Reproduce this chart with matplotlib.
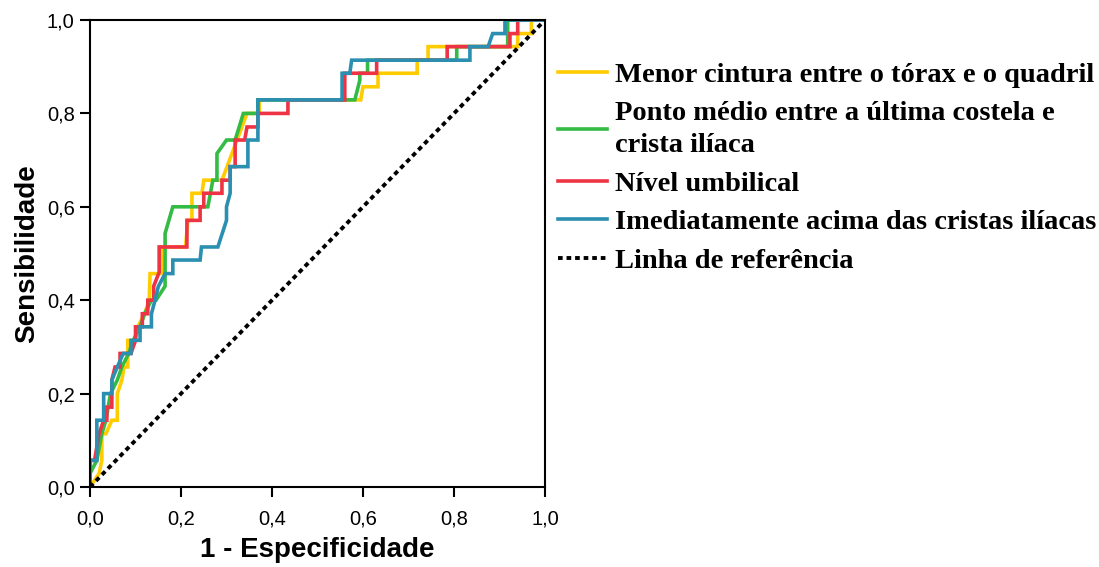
import matplotlib
matplotlib.use("Agg")
import matplotlib.pyplot as plt
from matplotlib.lines import Line2D

# ROC curves (1 - specificity, sensitivity)
fpr_menor = [0, 0.02, 0.026, 0.026, 0.035, 0.048, 0.06, 0.06, 0.07, 0.075, 0.083, 0.083, 0.1, 0.105,
             0.12, 0.13, 0.132, 0.158, 0.158, 0.21, 0.215, 0.224, 0.224, 0.246, 0.25, 0.29, 0.312,
             0.345, 0.372, 0.372, 0.595, 0.6, 0.633, 0.633, 0.719, 0.719, 0.743, 0.743, 0.94, 0.94,
             0.97, 0.97, 1.0]
tpr_menor = [0, 0.029, 0.057, 0.114, 0.114, 0.143, 0.143, 0.2, 0.229, 0.257, 0.257, 0.314, 0.314, 0.343,
             0.371, 0.4, 0.457, 0.457, 0.514, 0.514, 0.571, 0.571, 0.629, 0.629, 0.657, 0.657, 0.714,
             0.8, 0.8, 0.829, 0.829, 0.857, 0.857, 0.886, 0.886, 0.914, 0.914, 0.943, 0.943, 0.971,
             0.971, 1.0, 1.0]

fpr_medio = [0, 0, 0.015, 0.026, 0.035, 0.045, 0.06, 0.07, 0.085, 0.095, 0.11, 0.12, 0.135, 0.145,
             0.165, 0.165, 0.182, 0.259, 0.27, 0.279, 0.279, 0.30, 0.319, 0.337, 0.369, 0.369, 0.582,
             0.593, 0.593, 0.61, 0.61, 0.806, 0.806, 0.918, 0.918, 1.0]
tpr_medio = [0, 0.029, 0.057, 0.114, 0.143, 0.2, 0.229, 0.257, 0.286, 0.314, 0.343, 0.371, 0.4, 0.4,
             0.43, 0.543, 0.6, 0.6, 0.657, 0.657, 0.714, 0.743, 0.743, 0.8, 0.8, 0.829, 0.829,
             0.871, 0.886, 0.886, 0.914, 0.914, 0.943, 0.943, 1.0, 1.0]

fpr_umbilical = [0, 0, 0.01, 0.02, 0.03, 0.037, 0.037, 0.048, 0.048, 0.055, 0.066, 0.066, 0.09, 0.1,
                 0.1, 0.115, 0.115, 0.127, 0.127, 0.14, 0.14, 0.152, 0.152, 0.213, 0.213, 0.242, 0.242,
                 0.25, 0.25, 0.29, 0.29, 0.308, 0.308, 0.319, 0.319, 0.34, 0.345, 0.369, 0.369, 0.435,
                 0.435, 0.56, 0.56, 0.63, 0.63, 0.785, 0.785, 0.923, 0.923, 0.94, 0.94, 1.0]
tpr_umbilical = [0, 0.057, 0.057, 0.114, 0.143, 0.143, 0.171, 0.171, 0.229, 0.257, 0.257, 0.286, 0.286, 0.314,
                 0.343, 0.343, 0.371, 0.371, 0.4, 0.4, 0.43, 0.46, 0.514, 0.514, 0.571, 0.571, 0.6,
                 0.6, 0.629, 0.629, 0.657, 0.657, 0.686, 0.686, 0.743, 0.743, 0.771, 0.771, 0.8, 0.8,
                 0.829, 0.829, 0.886, 0.886, 0.914, 0.914, 0.943, 0.943, 0.971, 0.971, 1.0, 1.0]

fpr_cristas = [0, 0, 0.015, 0.015, 0.03, 0.03, 0.048, 0.048, 0.06, 0.073, 0.09, 0.09, 0.11, 0.11, 0.135,
               0.135, 0.143, 0.15, 0.165, 0.182, 0.182, 0.242, 0.245, 0.281, 0.30, 0.30, 0.308, 0.308,
               0.347, 0.347, 0.369, 0.369, 0.554, 0.554, 0.571, 0.575, 0.835, 0.835, 0.875, 0.885,
               0.912, 0.912, 1.0]
tpr_cristas = [0, 0.057, 0.057, 0.143, 0.143, 0.2, 0.2, 0.229, 0.257, 0.286, 0.286, 0.314, 0.314, 0.343, 0.343,
               0.371, 0.4, 0.429, 0.457, 0.457, 0.486, 0.486, 0.514, 0.514, 0.571, 0.6, 0.629, 0.686,
               0.686, 0.743, 0.743, 0.829, 0.829, 0.886, 0.886, 0.914, 0.914, 0.943, 0.943, 0.971,
               0.971, 1.0, 1.0]

labels = ["Menor cintura entre o tórax e o quadril",
          "Ponto médio entre a última costela e\ncrista ilíaca",
          "Nível umbilical",
          "Imediatamente acima das cristas ilíacas",
          "Linha de referência"]
colors = ["#FFCC00", "#33BB44", "#EE3344", "#2A8FB0", "black"]

fig = plt.figure(figsize=(10.99, 5.67), dpi=100)
ax = fig.add_axes([0.0819, 0.1411, 0.414, 0.8236])

curves = [(fpr_menor, tpr_menor), (fpr_medio, tpr_medio),
          (fpr_umbilical, tpr_umbilical), (fpr_cristas, tpr_cristas)]
for (x, y), c in zip(curves, colors[:4]):
    ax.plot(x, y, color=c, lw=2.6, solid_joinstyle="miter")
ax.plot([0, 1], [0, 1], color="black", lw=2.8, linestyle=(0, (1.2, 1.0)))

ax.set_xlim(0, 1)
ax.set_ylim(0, 1)
ticks = [0, 0.2, 0.4, 0.6, 0.8, 1.0]
ax.set_xticks(ticks)
ax.set_yticks(ticks)
tick_labels = ["0,0", "0,2", "0,4", "0,6", "0,8", "1,0"]
ax.set_xticklabels(tick_labels, family="Liberation Sans", fontsize=14.5)
ax.set_yticklabels(tick_labels, family="Liberation Sans", fontsize=14.5)
ax.tick_params(axis="x", direction="out", length=7, width=1.5, pad=9)
ax.tick_params(axis="y", direction="out", length=7, width=1.5, pad=4)
for s in ax.spines.values():
    s.set_linewidth(1.5)
ax.set_xlabel("1 - Especificidade", family="Liberation Sans", fontweight="bold", fontsize=20, labelpad=6)
ax.set_ylabel("Sensibilidade", family="Liberation Sans", fontweight="bold", fontsize=20, labelpad=5)

handles = [Line2D([], [], color=c, lw=2.6) for c in colors[:4]]
handles.append(Line2D([], [], color="black", lw=2.8, linestyle=(0, (1.2, 1.0))))
leg = fig.legend(handles, labels, loc="upper left", bbox_to_anchor=(0.497, 0.91),
                 frameon=False, handlelength=1.75, handletextpad=0.25, labelspacing=0.45,
                 borderaxespad=0, prop={"family": "Liberation Serif", "weight": "bold", "size": 20.5})
for t in leg.get_texts():
    t.set_linespacing(1.35)

fig.savefig("out.png", dpi=100)
